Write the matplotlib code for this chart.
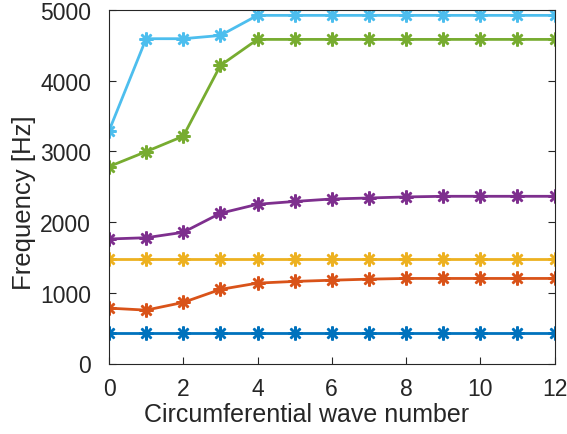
import matplotlib
matplotlib.use("Agg")
import matplotlib.pyplot as plt

wave_numbers = list(range(13))
mode1 = [430] * 13
mode2 = [783, 755, 864, 1048, 1137, 1161, 1178, 1193, 1203, 1203, 1203, 1203, 1203]
mode3 = [1482] * 13
mode4 = [1761, 1779, 1856, 2125, 2252, 2292, 2327, 2341, 2356, 2365, 2365, 2365, 2365]
mode5 = [2785, 2997, 3215, 4215, 4584, 4584, 4584, 4584, 4584, 4584, 4584, 4584, 4584]
mode6 = [3290, 4594, 4594, 4640, 4924, 4924, 4924, 4924, 4924, 4924, 4924, 4924, 4924]

series = [mode1, mode2, mode3, mode4, mode5, mode6]
colors = ["#0072BD", "#D95319", "#EDB120", "#7E2F8E", "#77AC30", "#4DBEEE"]

plt.rcParams['font.family'] = ['Liberation Sans', 'DejaVu Sans']
fig = plt.figure(figsize=(5.67, 4.35), dpi=100)
ax = fig.add_axes([109/567, 1 - 364.5/435, (554.5-109)/567, (364.5-11)/435])

for ys, c in zip(series, colors):
    ax.plot(wave_numbers, ys, color=c, lw=2, marker=(8, 2, 0), markersize=10,
            markeredgewidth=1.8, markeredgecolor=c)

ax.set_xlim(0, 12)
ax.set_ylim(0, 5000)
ax.set_xticks(range(0, 13, 2))
ax.set_yticks(range(0, 5001, 1000))
dark = "#262626"
for s in ax.spines.values():
    s.set_color(dark)
    s.set_linewidth(0.8)
ax.tick_params(direction='in', length=5, width=0.8, colors=dark, labelsize=16.5,
               top=False, right=True, labelcolor=dark)
ax.tick_params(axis='y', pad=13)
ax.tick_params(axis='x', pad=10)
ax.set_xlabel("Circumferential wave number", fontsize=18, color=dark)
ax.set_ylabel("Frequency [Hz]", fontsize=18.5, color=dark)
ax.xaxis.set_label_coords(0.443, -0.11)
ax.yaxis.set_label_coords(-0.163, 0.458)

fig.savefig("out.png", dpi=100)
